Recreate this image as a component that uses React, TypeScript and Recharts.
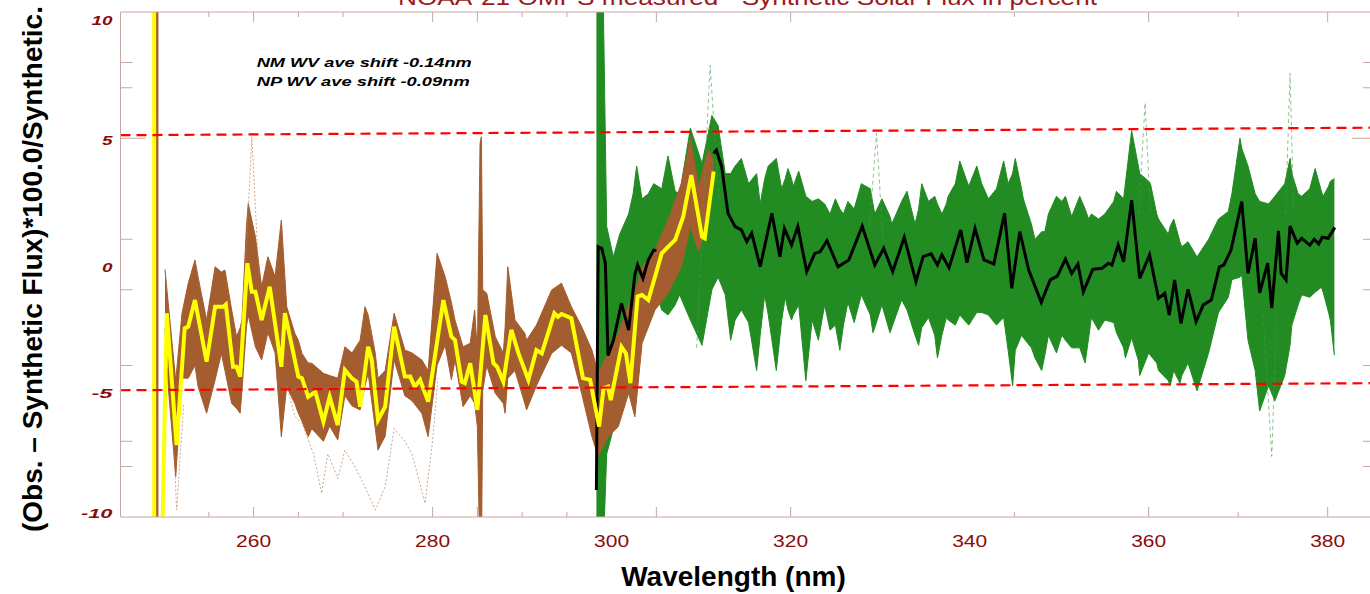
import { ComposedChart, Line, Area, XAxis, YAxis } from 'recharts';

// plot frame in page pixels (the picture is cropped on the right and at the top)
const PLOT_LEFT = 120.5;
const PLOT_RIGHT = 1376;
const PLOT_TOP = 12;
const PLOT_BOTTOM = 517;
const CHART_W = 1400;
const CHART_H = 594;
const BOTTOM_AXIS_H = 30;
const TOP_AXIS_H = 2;
const LEFT_AXIS_W = 40;
const RIGHT_AXIS_W = 2;
const AXIS_COLOR = '#c8a6a4';
const LABEL_RED = '#8b0b0b';
const BROWN = '#a35d2e';
const GREEN = '#228b22';
const FONT = '"Liberation Sans", Arial, sans-serif';

// ---- data: [wavelength nm, percent] ----
const yellowMean: [number, number][] = [
  [248.88, 25], [248.9, -25], [249.78, -25], [249.82, -10.3], [250.3, -1.93],
  [251.4, -7.15], [252.3, -2.53], [252.7, -2.46], [253.45, -1.41], [254.75, -3.85],
  [255.7, -1.67], [256.6, -1.67], [256.9, -1.58], [257.7, -4.05], [258.1, -4.05],
  [258.5, -4.44], [259.3, 0.05], [259.8, -1.08], [260.2, -1.08], [260.9, -2.2],
  [261.8, -0.88], [263.1, -4.05], [263.5, -1.93], [265.0, -4.44], [265.4, -4.5],
  [266.1, -5.24], [266.9, -5.04], [267.8, -6.23], [268.5, -5.24], [269.4, -6.36],
  [270.2, -4.18], [270.96, -4.5], [271.5, -4.64], [271.9, -5.63], [272.8, -3.26],
  [273.2, -3.78], [273.9, -6.16], [274.7, -5.63], [275.7, -2.46], [276.9, -4.44],
  [277.5, -4.44], [278.0, -4.84], [278.6, -4.57], [279.5, -5.43], [281.2, -1.41],
  [282.1, -2.86], [282.5, -2.99], [283.25, -4.64], [283.6, -4.7], [284.2, -3.91],
  [285.0, -5.76], [285.9, -2.0], [286.8, -3.91], [287.2, -4.05], [287.9, -4.64],
  [288.8, -2.59], [289.6, -3.52], [290.7, -4.57], [291.6, -3.39], [292.2, -3.52],
  [293.6, -1.93], [294.0, -2.07], [294.4, -1.96], [295.5, -2.13], [296.8, -4.5],
  [297.6, -4.57], [298.6, -6.42], [299.1, -4.9], [299.6, -4.84], [299.9, -5.37],
  [301.1, -3.26], [301.6, -3.52], [302.1, -4.7], [302.9, -1.27], [303.4, -1.21],
  [304.1, -1.41], [305.6, 0.44], [306.3, 0.7], [307.1, 0.97], [308.0, 1.89],
  [308.9, 3.54], [310.1, 1.1], [310.4, 1.04], [311.4, 3.68],
];

const blackMeanShort: [number, number][] = [
  [298.3, -8.93], [298.5, 0.7], [298.9, 0.64], [299.3, 0.05], [299.6, -3.6],
  [300.2, -3.0], [301.1, -1.54], [301.9, -2.6], [302.6, -0.4], [302.9, -0.02],
  [303.5, -0.55], [304.1, 0.18], [304.7, 0.57], [305.0, 0.55],
];

const blackMeanLong: [number, number][] = [
  [311.4, 4.4], [311.7, 4.53], [312.3, 3.87], [313.0, 2.03], [313.8, 1.5],
  [314.5, 1.37], [315.1, 0.9], [315.65, 1.24], [316.6, -0.09], [317.9, 2.03],
  [318.8, 0.31], [319.3, 1.43], [320.1, 0.77], [320.8, 1.5], [321.8, -0.28],
  [322.7, 0.44], [323.3, 0.51], [324.06, 0.94], [325.3, -0.09], [326.5, 0.18],
  [328.0, 1.52], [329.4, -0.02], [330.4, 0.64], [331.4, -0.28], [332.7, 1.08],
  [334.0, -0.68], [334.8, 0.31], [335.7, 0.42], [336.4, -0.02], [336.9, 0.38],
  [337.7, -0.13], [339.0, 1.37], [339.7, 0.07], [340.6, 1.43], [341.6, 0.18],
  [342.7, 0.02], [343.9, 2.03], [344.7, -0.94], [345.6, 1.3], [346.6, -0.22],
  [348.0, -1.5], [349.0, -0.61], [349.8, -0.46], [350.7, 0.21], [351.4, -0.35],
  [352.1, 0.02], [352.7, -1.08], [353.75, -0.19], [354.8, -0.15], [355.5, 0.05],
  [355.9, -0.02], [356.6, 0.77], [357.2, 0.11], [358.1, 2.55], [359.0, -0.55],
  [360.1, 0.38], [361.1, -1.34], [361.8, -1.14], [362.3, -2.0], [362.9, -0.61],
  [363.6, -2.33], [364.4, -0.98], [365.3, -2.26], [366.1, -1.6], [367.0, -1.41],
  [367.9, -0.09], [368.4, -0.02], [369.2, 0.57], [370.4, 2.49], [371.1, -0.35],
  [371.9, 1.04], [372.4, -1.12], [373.3, 0.05], [373.75, -1.73], [374.5, 1.33],
  [374.8, -0.35], [375.35, -0.61], [375.8, 1.52], [376.6, 0.84], [377.1, 1.04],
  [378.0, 0.77], [378.5, 1.0], [379.0, 0.81], [379.4, 1.08], [380.05, 1.04],
  [380.8, 1.47],
];

// envelopes of the individual spectra: [nm, low, high]
const brownBand: [number, number, number][] = [
  [250.1, -2.5, -0.2], [250.5, -5.0, -1.67], [251.3, -8.4, -4.6], [252.0, -4.5, -1.93],
  [252.7, -4.5, -0.74], [253.45, -4.0, 0.18], [253.8, -4.84, -0.5], [254.75, -5.89, -2.2],
  [255.7, -4.57, -0.09], [256.4, -3.52, -0.3], [256.8, -4.2, -0.22], [257.55, -5.5, -1.8],
  [258.1, -5.7, -2.86], [258.5, -5.89, -2.5], [258.7, -5.0, -2.2], [259.2, -2.46, 1.5],
  [259.4, -2.0, 2.42], [260.2, -3.26, 1.1], [260.9, -3.78, -0.88], [261.6, -2.7, 0.31],
  [262.4, -3.5, -0.48], [263.1, -6.82, 1.76], [263.7, -4.84, -1.67], [264.6, -5.5, -2.72],
  [265.0, -5.89, -3.0], [265.4, -6.2, -3.52], [266.1, -6.82, -3.9], [266.5, -6.5, -3.91],
  [267.8, -7.0, -4.31], [268.5, -6.4, -4.4], [269.4, -6.95, -4.5], [270.2, -5.2, -3.26],
  [271.0, -5.6, -3.5], [271.9, -5.76, -3.0], [272.45, -4.8, -1.67], [272.8, -4.31, -2.0],
  [273.6, -6.5, -3.52], [273.9, -7.35, -4.5], [274.7, -6.8, -4.2], [275.7, -3.78, -1.93],
  [276.9, -5.2, -3.39], [277.7, -5.4, -3.5], [278.8, -5.9, -3.78], [279.5, -6.82, -4.2],
  [280.5, -4.0, 0.44], [281.4, -3.2, -0.48], [282.1, -4.57, -1.5], [282.5, -3.78, -2.2],
  [283.4, -5.63, -3.26], [284.2, -5.2, -3.12], [284.7, -5.5, -1.8], [285.0, -6.42, -3.5],
  [285.3, -12, 4.8], [285.45, -12, 5.06], [285.6, -5.0, -1.0], [286.05, -4.0, -1.14],
  [287.0, -5.1, -2.86], [287.9, -5.5, -3.5], [288.1, -5.89, -2.5], [288.4, -4.5, -0.09],
  [289.2, -4.2, -2.2], [290.3, -5.5, -2.72], [290.5, -5.76, -3.0], [291.6, -4.8, -2.4],
  [293.3, -3.52, -1.01], [294.4, -3.2, -0.74], [295.5, -3.5, -1.67], [296.65, -5.1, -2.46],
  [297.8, -6.82, -3.39], [298.5, -7.6, -4.31], [299.6, -6.82, -3.52], [300.75, -6.42, -2.72],
  [301.9, -5.1, -1.6], [302.6, -6.03, -1.14], [303.4, -3.12, -0.09], [304.85, -1.8, 0.57],
  [306.3, -1.14, 1.76], [307.8, -0.09, 3.22], [308.6, 1.2, 4.6], [308.8, 1.5, 5.06],
  [309.7, 0.5, 3.08], [310.8, 1.76, 4.53], [311.4, 3.4, 4.14],
];

const greenBand: [number, number, number][] = [
  [298.3, -12, 12], [299.0, -12, 12], [299.45, -7.5, 1.5], [300.2, -6.5, 0.3],
  [300.9, -4.8, 1.2], [301.9, -4.0, 2.0], [302.4, -2.5, 2.8], [302.8, -3.4, 3.9],
  [303.4, -2.2, 2.6], [304.1, -1.2, 2.8], [304.7, -0.8, 3.2], [305.6, -1.8, 3.0],
  [306.3, -2.0, 4.3], [307.1, -1.6, 2.9], [307.6, -1.2, 2.8], [308.8, -2.2, 5.4],
  [310.1, -3.2, 4.0], [311.2, -1.0, 5.9], [311.9, -0.5, 5.5], [312.7, -1.2, 3.6],
  [313.3, -3.0, 3.6], [313.8, -2.2, 3.9], [314.5, -1.8, 4.2], [315.3, -2.3, 3.2],
  [316.2, -4.2, 3.6], [316.6, -2.8, 2.4], [317.1, -1.2, 3.4], [317.5, -2.0, 3.9],
  [318.4, -4.2, 4.2], [319.0, -2.2, 3.0], [319.4, -1.3, 3.4], [319.7, -1.8, 3.8],
  [320.1, -2.2, 3.4], [320.3, -2.0, 3.1], [320.9, -1.6, 3.7], [321.7, -4.6, 2.7],
  [322.4, -2.2, 2.5], [323.1, -3.0, 2.6], [323.8, -1.6, 2.4], [324.4, -2.6, 2.0],
  [325.0, -2.4, 2.6], [325.5, -3.4, 2.2], [325.9, -2.4, 2.0], [326.4, -1.5, 2.5],
  [327.1, -2.3, 2.2], [327.9, -1.2, 3.2], [328.9, -2.0, 3.0], [329.2, -2.7, 2.4],
  [329.4, -2.5, 2.0], [330.2, -1.6, 2.6], [331.1, -2.7, 1.9], [331.3, -2.5, 1.6],
  [332.4, -1.4, 2.5], [333.0, -1.8, 2.9], [333.9, -2.8, 1.6], [334.3, -3.2, 2.2],
  [334.65, -2.5, 3.2], [335.4, -2.1, 2.5], [336.1, -2.8, 2.7], [336.4, -3.7, 2.4],
  [336.9, -2.8, 2.0], [337.4, -2.1, 2.4], [337.6, -2.2, 2.7], [338.4, -2.4, 3.2],
  [338.9, -2.0, 4.1], [339.9, -2.4, 3.1], [340.8, -1.9, 3.9], [341.35, -1.9, 3.2],
  [342.1, -2.0, 2.6], [343.0, -2.4, 3.0], [343.8, -2.1, 4.1], [344.3, -3.4, 3.2],
  [344.8, -4.8, 3.6], [345.1, -3.4, 4.2], [345.8, -2.8, 3.0], [346.0, -2.9, 2.6],
  [346.9, -3.3, 1.6], [347.3, -3.7, 1.0], [348.05, -4.2, 1.3], [348.4, -3.6, 1.3],
  [348.8, -2.8, 2.0], [349.7, -3.5, 2.7], [350.3, -2.8, 2.5], [350.7, -3.0, 2.7],
  [351.4, -3.3, 1.9], [352.3, -3.3, 2.7], [352.9, -3.9, 2.2], [353.3, -2.9, 1.8],
  [353.6, -2.1, 2.0], [354.4, -2.6, 1.8], [355.1, -2.2, 2.0], [356.1, -2.3, 2.5],
  [356.4, -2.7, 2.9], [357.2, -3.3, 2.6], [357.4, -3.7, 3.2], [358.1, -2.9, 5.3],
  [358.85, -3.8, 3.9], [359.0, -4.4, 3.6], [360.0, -3.5, 3.3], [360.2, -3.6, 3.2],
  [360.9, -3.9, 2.0], [361.1, -4.2, 1.8], [362.2, -4.6, 1.2], [362.4, -4.8, 1.5],
  [362.8, -4.2, 1.8], [363.5, -4.7, 0.9], [363.7, -4.4, 0.7], [364.4, -3.9, 0.9],
  [365.4, -5.0, 0.3], [366.7, -3.5, 1.0], [367.8, -1.9, 1.8], [368.9, -1.3, 2.1],
  [369.3, -0.6, 2.8], [370.2, -0.5, 5.0], [370.4, -0.4, 4.6], [371.1, -3.0, 3.9],
  [371.9, -4.2, 2.8], [372.4, -5.8, 2.5], [373.4, -4.8, 2.4], [374.1, -5.4, 2.7],
  [375.2, -4.4, 3.2], [375.8, -3.2, 4.2], [376.0, -2.4, 3.6], [376.7, -1.6, 2.8],
  [377.1, -1.2, 2.7], [378.0, -1.3, 3.0], [378.6, -1.1, 3.8], [379.3, -0.9, 2.9],
  [379.5, -1.1, 2.7], [380.1, -1.9, 3.1], [380.3, -2.2, 3.3], [380.75, -3.6, 3.4],
];

// vertical brown trace at the left edge of the brown band
const brownEdge: [number, number][] = [[249.2, 25], [249.2, -25]];

// a few faint outlier spectra
const brownOutliers: [number, number][][] = [
  [[250.7, -4.0], [251.4, -9.72], [252.2, -5.5]],
  [[258.9, -1.5], [259.8, 5.06], [260.6, -0.5]],
  [[263.7, -4.8], [264.6, -6.0], [265.4, -6.3], [266.7, -7.5], [267.6, -9.06], [268.3, -7.5],
   [269.4, -8.47], [270.2, -7.35], [271.3, -8.0], [272.45, -8.8], [273.6, -9.72], [274.7, -8.8],
   [275.7, -6.5], [276.9, -7.0], [277.7, -7.5], [279.15, -9.46], [280.0, -7.0], [280.6, -4.5]],
];
const greenOutliers: [number, number][][] = [
  [[309.5, -3.3], [311.0, 7.9], [312.0, 2.5]],
  [[328.8, 1.5], [329.6, 5.2], [330.3, 1.0]],
  [[358.9, 2.0], [359.6, 6.4], [360.2, 2.0]],
  [[372.8, -2.0], [373.75, -7.6], [374.3, -2.0]],
  [[375.3, 2.0], [375.8, 7.57], [376.2, 2.0]],
];

// red dashed +/-5 % guide lines (slightly tilted in the picture)
const upperLimit: [number, number][] = [[245.13, 5.12], [385.4, 5.42]];
const lowerLimit: [number, number][] = [[245.13, -4.98], [385.4, -4.7]];

// axes
const xDomain: [number, number] = [245.13, 385.4];
const xLabels = [260, 280, 300, 320, 340, 360, 380];
const xMajorMarks = [260, 280, 285, 305, 320, 360, 380];
const xMinorMarks = [255, 265, 270, 290, 295, 345, 370];
const yLabels = [10, 5, 0, -5, -10];
const yLongMarks = [5];
const yShortMarks = [8, 7, 1, -1, -4, -7, -8];

const xTicks = Array.from(new Set([...xLabels, ...xMajorMarks, ...xMinorMarks])).sort((a, b) => a - b);
const yTicks = Array.from(new Set([...yLabels, ...yLongMarks, ...yShortMarks])).sort((a, b) => a - b);

const toPts = (a: [number, number][]) => a.map(([x, y]) => ({ x, y }));
const toRange = (a: [number, number, number][]) => a.map(([x, lo, hi]) => ({ x, r: [lo, hi] }));

function xMarkLen(v: number) {
  if (xMajorMarks.includes(v)) return 10;
  if (xMinorMarks.includes(v)) return 5;
  return 0;
}

function yMarkLen(v: number, long: number, short: number) {
  if (yLongMarks.includes(v)) return long;
  if (yShortMarks.includes(v)) return short;
  return 0;
}

const BottomTick = (props: any) => {
  const { x, payload } = props;
  const v = payload.value;
  const len = xMarkLen(v);
  return (
    <g>
      {len > 0 && <line x1={x} x2={x} y1={PLOT_BOTTOM} y2={PLOT_BOTTOM - len} stroke={AXIS_COLOR} />}
      {xLabels.includes(v) && (
        <text x={x} y={546.5} textAnchor="middle" fontFamily={FONT} fontSize={16} fill={LABEL_RED}
          textLength={35} lengthAdjust="spacingAndGlyphs">
          {v}
        </text>
      )}
    </g>
  );
};

const TopTick = (props: any) => {
  const { x, payload } = props;
  const len = xMarkLen(payload.value);
  if (!len) return <g />;
  return <line x1={x} x2={x} y1={PLOT_TOP} y2={PLOT_TOP + len} stroke={AXIS_COLOR} />;
};

const LeftTick = (props: any) => {
  const { y, payload } = props;
  const v = payload.value;
  const len = yMarkLen(v, 25, 12);
  const label = String(v);
  const ty = Math.min(Math.max(y + 7, 25), 518);
  return (
    <g>
      {len > 0 && <line x1={PLOT_LEFT} x2={PLOT_LEFT + len} y1={y} y2={y} stroke={AXIS_COLOR} />}
      {yLabels.includes(v) && (
        <text x={112.5} y={ty} textAnchor="end" fontFamily={FONT} fontSize={13} fontWeight="bold"
          fontStyle="italic" fill={LABEL_RED} textLength={label.length * 10.5} lengthAdjust="spacingAndGlyphs">
          {label}
        </text>
      )}
    </g>
  );
};

const RightTick = (props: any) => {
  const { y, payload } = props;
  const len = yMarkLen(payload.value, 24, 13);
  if (!len) return <g />;
  return <line x1={PLOT_RIGHT} x2={PLOT_RIGHT - len} y1={y} y2={y} stroke={AXIS_COLOR} />;
};

export default function App() {
  return (
    <div style={{ position: 'absolute', left: 0, top: 0, width: 1370, height: 594, overflow: 'hidden', background: '#fff' }}>
      <ComposedChart
        width={CHART_W}
        height={CHART_H}
        margin={{
          top: PLOT_TOP - TOP_AXIS_H,
          right: CHART_W - PLOT_RIGHT - RIGHT_AXIS_W,
          bottom: CHART_H - PLOT_BOTTOM - BOTTOM_AXIS_H,
          left: PLOT_LEFT - LEFT_AXIS_W,
        }}
      >
        <XAxis dataKey="x" type="number" domain={xDomain} allowDataOverflow ticks={xTicks} interval={0}
          height={BOTTOM_AXIS_H} tickLine={false} axisLine={{ stroke: AXIS_COLOR }}
          tick={(p: any) => <BottomTick {...p} />} />
        <XAxis xAxisId="top" orientation="top" dataKey="x" type="number" domain={xDomain} allowDataOverflow
          ticks={xTicks} interval={0} height={TOP_AXIS_H} tickLine={false} axisLine={{ stroke: AXIS_COLOR }}
          tick={(p: any) => <TopTick {...p} />} />
        <YAxis type="number" domain={[-10, 10]} allowDataOverflow ticks={yTicks} interval={0} width={LEFT_AXIS_W}
          tickLine={false} axisLine={{ stroke: AXIS_COLOR }} tick={(p: any) => <LeftTick {...p} />} />
        <YAxis yAxisId="right" orientation="right" type="number" domain={[-10, 10]} allowDataOverflow
          ticks={yTicks} interval={0} width={RIGHT_AXIS_W} tickLine={false} axisLine={{ stroke: AXIS_COLOR }}
          tick={(p: any) => <RightTick {...p} />} />

        {greenOutliers.map((seg, i) => (
          <Line key={'go' + i} data={toPts(seg)} dataKey="y" type="linear" stroke="#4f9a4f" strokeWidth={1}
            strokeDasharray="4 3" strokeOpacity={0.6} dot={false} activeDot={false} isAnimationActive={false} />
        ))}
        <Area data={toRange(greenBand)} dataKey="r" type="linear" stroke={GREEN} strokeWidth={1}
          fill={GREEN} fillOpacity={1} dot={false} activeDot={false} isAnimationActive={false} />

        {brownOutliers.map((seg, i) => (
          <Line key={'bo' + i} data={toPts(seg)} dataKey="y" type="linear" stroke="#b5835c" strokeWidth={1}
            strokeDasharray="2 2" strokeOpacity={0.7} dot={false} activeDot={false} isAnimationActive={false} />
        ))}
        <Area data={toRange(brownBand)} dataKey="r" type="linear" stroke={BROWN} strokeWidth={1}
          fill={BROWN} fillOpacity={1} dot={false} activeDot={false} isAnimationActive={false} />
        <Line data={toPts(brownEdge)} dataKey="y" type="linear" stroke={BROWN} strokeWidth={3}
          dot={false} activeDot={false} isAnimationActive={false} />

        <Line data={toPts(blackMeanShort)} dataKey="y" type="linear" stroke="#000" strokeWidth={3}
          dot={false} activeDot={false} isAnimationActive={false} />
        <Line data={toPts(blackMeanLong)} dataKey="y" type="linear" stroke="#000" strokeWidth={3}
          dot={false} activeDot={false} isAnimationActive={false} />
        <Line data={toPts(yellowMean)} dataKey="y" type="linear" stroke="#ffff00" strokeWidth={4}
          dot={false} activeDot={false} isAnimationActive={false} />

        <Line data={toPts(upperLimit)} dataKey="y" type="linear" stroke="#ff0000" strokeWidth={2.2}
          strokeDasharray="10 6" dot={false} activeDot={false} isAnimationActive={false} />
        <Line data={toPts(lowerLimit)} dataKey="y" type="linear" stroke="#ff0000" strokeWidth={2.2}
          strokeDasharray="10 6" dot={false} activeDot={false} isAnimationActive={false} />
      </ComposedChart>

      <svg width={1370} height={594} style={{ position: 'absolute', left: 0, top: 0, pointerEvents: 'none' }}>
        <text x={398} y={5} fontFamily={FONT} fontSize={22} fill="#9a1a1a" textLength={699}
          lengthAdjust="spacingAndGlyphs">
          NOAA-21 OMPS measured - Synthetic Solar Flux in percent
        </text>
        <text x={256.7} y={66.7} fontFamily={FONT} fontSize={13} fontWeight="bold" fontStyle="italic"
          fill="#000" textLength={215} lengthAdjust="spacingAndGlyphs">
          NM WV ave shift -0.14nm
        </text>
        <text x={256.7} y={86} fontFamily={FONT} fontSize={13} fontWeight="bold" fontStyle="italic"
          fill="#000" textLength={213} lengthAdjust="spacingAndGlyphs">
          NP WV ave shift -0.09nm
        </text>
        <text x={733.5} y={586} textAnchor="middle" fontFamily={FONT} fontSize={28} fontWeight="bold" fill="#000">
          Wavelength (nm)
        </text>
        <text transform="translate(41.5, 532) rotate(-90)" fontFamily={FONT} fontSize={28} fontWeight="bold" fill="#000">
          (Obs. – Synthetic Flux)*100.0/Synthetic.
        </text>
      </svg>
    </div>
  );
}
